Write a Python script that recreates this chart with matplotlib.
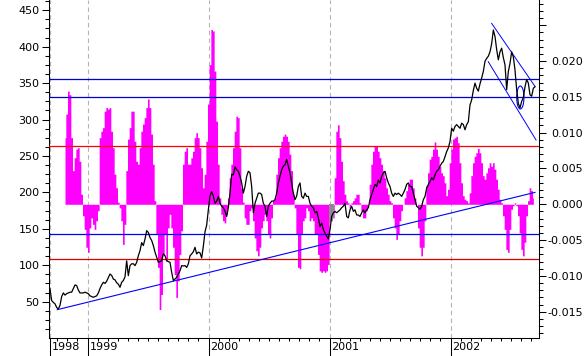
import numpy as np
import matplotlib
matplotlib.use("Agg")
import matplotlib.pyplot as plt
from matplotlib.patches import Ellipse
from matplotlib.ticker import FixedLocator, FuncFormatter

plt.rcParams['font.family'] = 'DejaVu Sans'
plt.rcParams['font.size'] = 8

## data, sampled about every 5 days starting early Sept 1998
t_start = 1998.69
t_step = 0.013774

price = [
    67.5, 51.4, 49, 47, 42, 40, 45, 57, 62, 59,
    61, 62, 63, 63, 68, 73, 72, 66, 62, 62,
    62, 63, 62, 61, 58, 57, 56, 57, 58, 62,
    68, 73, 76.6, 75, 78, 83, 88, 86, 81, 80,
    76, 74, 69.7, 76.6, 79, 84, 106, 85.7, 99.5, 102,
    102, 99.5, 104, 113, 120, 131, 127, 136, 147.5, 145,
    138, 134, 127, 118, 111, 104, 105, 106, 115.5, 113,
    106, 105, 104, 90.3, 79, 81, 83.5, 88, 92.5, 99.5,
    99, 99.5, 97, 102, 113, 115.5, 118.6, 124.6, 115.5, 118,
    117,
    110, 126, 146, 155, 176, 195, 201, 195, 185, 188,
    194.5, 185, 181, 179, 174, 167, 179, 199, 225, 224,
    235, 231, 229, 222, 213, 199, 208, 222, 229, 227,
    208, 172, 185, 192, 199, 199, 197, 185, 181, 167,
    181, 185, 188, 188, 190, 199, 213, 222, 231, 236,
    238, 245, 236, 227, 213, 199, 190, 195, 208, 213,
    194.5, 192, 199, 194.5, 194.5, 185, 181, 179, 172, 174,
    165, 153, 158, 149, 144, 140, 136, 149, 167, 172,
    174, 172, 174, 176, 179, 181, 185, 167, 165, 176,
    181, 174, 176, 169, 169, 167, 172, 176, 172, 176,
    179, 190, 197, 204, 211, 208, 217, 213, 222, 227,
    229, 220, 213, 208, 199, 194.5, 199, 197, 199, 197,
    194.5, 199, 204, 211, 213, 208, 208, 199, 190, 181,
    179, 177, 181, 190, 194.5,
    206, 211, 215, 220, 217, 224, 229, 231, 236, 240,
    242.5, 249, 256, 261, 270, 288, 284, 290.5, 293, 290.5,
    288, 295, 293, 286, 293, 297, 320, 327, 340, 350,
    343, 339, 349, 357, 366, 380, 384, 387, 393, 404,
    423, 414, 396, 382, 393, 398, 385, 375, 341, 366,
    377, 393, 386, 368, 341, 322, 316, 325, 330, 345,
    355, 350, 334, 332, 343, 345,
]

# oscillator (right axis), units of 0.001, starts 9 samples after the price
osc_offset = 9
osc_milli = [
    9.3, 12.6, 15.8, 15.3, 9.3, 4.7, 6.5, 7.7, 7.9, 6.0,
    1.4, -1.6, -3.5, -6.0, -6.7, -3.3, -1.9, -2.8, -3.5, -2.3,
    -0.9, 9.3, 10.2, 10.7, 13.0, 13.5, 13.3, 13.5, 10.2, 7.9,
    4.2, 2.3, 0.3, -0.5, -2.3, -5.6, -2.8, 4.7, 9.1, 10.7,
    13.0, 13.0, 8.8, 6.0, 5.6, 7.9, 10.2, 11.2, 12.1, 13.5,
    14.7, 13.5, 9.8, 5.6, 0.5, -4.2, -8.8, -14.7, -12.6, -7.0,
    -4.2, -7.9, -3.3,
    -1.4, -3.3, -6.0, -9.8, -13.0, -10.7, -7.0, -3.7, 5.6, 7.4,
    7.9, 5.6, 5.6, 6.5, 7.4, 9.3, 10.0, 9.3, 7.9, 5.1,
    2.3, 4.2, 8.8, 14.0, 19.5, 24.4, 24.2, 18.6, 11.6, 5.6,
    0.9, -1.4, -2.3, -2.6, -1.4, 0.9, 3.7, 5.6, 7.9, 10.2,
    12.3, 12.1, 7.9, 2.3, 0.3, -1.9, -2.8, -2.8, -0.9, -0.5,
    -2.3, -4.7, -6.5, -7.2, -6.0, -3.3, -2.3, -1.4, -2.3, -4.2,
    -4.7, -1.9, 0.5, 0.9, 4.2, 6.5, 7.9, 8.8, 9.5, 9.8,
    9.5, 8.8, 7.0, 4.7, 1.4, -0.5, -4.2, -8.8, -9.0,
    -4.2, -2.3, -1.9, -0.5, -0.9, -2.3, -1.9, -2.3, -4.2, -4.2,
    -7.0, -9.3, -9.5, -9.3, -9.5, -9.3, -8.4, -2.3, -2.3, -1.9,
    3.7, 10.2, 11.1, 9.3, 6.0, 3.3, 1.4, 0.5, 0.2, -0.5,
    0.2, 0.5, 0.9, 1.4, 1.4, 0.2, -0.9, -1.9, -1.9, -0.9,
    0.0, 2.8, 5.6, 7.4, 8.1, 8.1, 7.4, 6.5, 5.6, 4.7,
    3.7, 2.3, 1.4, 0.5, 0.2, -1.9, -3.3, -4.9, -4.2, -2.3,
    -0.9, 0.0, 0.9, 1.9, 2.8, 3.5, 3.5, 2.3, 0.9, 0.0,
    -3.3, -6.0, -7.2, -6.0, -2.3,
    2.6, 4.4, 6.3, 6.7, 7.7, 8.7, 7.7, 6.7, 5.3, 4.4,
    4.0, 3.0, 1.2, 2.1, 5.8, 7.7, 9.1, 9.3, 9.5, 8.6,
    5.8, 3.0, 1.2, 0.7, 0.5, 0.2, 1.6, 4.0, 5.8, 6.7,
    7.2, 7.8, 7.2, 5.8, 4.0, 3.5, 4.4, 5.1, 5.8, 5.3,
    5.8, 4.9, 3.5, 2.1, 0.7, 0.2, -1.6, -3.5, -6.3, -6.7,
    -3.5, -0.7, -0.2, 0.2, -0.2, -1.6, -4.0, -6.3, -7.2, -5.3,
    -1.6, 0.5, 2.3, 1.9, 0.9,
]
grey_span = (2001.0, 2001.035)   # few bars drawn grey

# support / resistance levels (left axis)
levels = [355.3, 330.6, 263.3, 142.9, 108.2]
level_colors = ['#0000cc', '#0000cc', '#ff0000', '#0000ff', '#dd0000']

trend_t = [1998.750, 2002.698]
trend_v = [39, 200]
chan_hi_t = [2002.340, 2002.698]
chan_hi_v = [432, 345.6]
chan_lo_t = [2002.312, 2002.707]
chan_lo_v = [379.4, 271.9]
ell_center = (2002.577, 330.3)
ell_w, ell_h = 0.060, 31.6

years = [1999, 2000, 2001, 2002]

t = t_start + t_step * np.arange(len(price))
t_osc = t[osc_offset:osc_offset + len(osc_milli)]
osc = np.array(osc_milli) / 1000.0

##
W, H = 587, 356
fig = plt.figure(figsize=(W / 100, H / 100), dpi=100)
ax = fig.add_axes([49 / W, 18.5 / H, 490 / W, 337.5 / H])   # oscillator, right scale
axp = ax.twinx()                                              # price, left scale

# grid
for x in [t_start] + years:
    ax.axvline(x, color='#b4b4b4', lw=0.8, ls=(0, (4, 3)), zorder=0.5)

ax.fill_between(t_osc, osc, 0, step='mid', color='#ff00ff', lw=0, zorder=2)
m = (t_osc >= grey_span[0]) & (t_osc <= grey_span[1])
ax.bar(t_osc[m], osc[m], width=t_step, color='#8c8c8c', lw=0, zorder=2.5)

for lv, c in zip(levels, level_colors):
    axp.axhline(lv, color=c, lw=0.9, zorder=3)
axp.plot(trend_t, trend_v, color='#0000ff', lw=0.8, zorder=3)
axp.plot(chan_hi_t, chan_hi_v, color='#0000ff', lw=0.7, zorder=3)
axp.plot(chan_lo_t, chan_lo_v, color='#0000ff', lw=0.7, zorder=3)
axp.add_patch(Ellipse(ell_center, ell_w, ell_h, fill=False, ec='#0000ff', lw=0.8, zorder=3))
axp.plot(t, price, color='black', lw=0.9, zorder=5)

ax.set_xlim(1998.6817, 2002.7313)
ax.set_ylim(-0.0186, 0.02852)
axp.set_ylim(0.8, 464.1)

# right axis
ax.yaxis.tick_right()
ax.yaxis.set_major_locator(FixedLocator([-0.015, -0.01, -0.005, 0, 0.005, 0.01, 0.015, 0.02, 0.025]))
ax.yaxis.set_minor_locator(FixedLocator(np.arange(-0.018, 0.0285, 0.001)))
ax.yaxis.set_major_formatter(FuncFormatter(lambda v, p: '' if v > 0.022 else '%.3f' % v))
ax.tick_params(axis='y', which='major', length=5, width=0.75, pad=26.5, labelsize=8)
ax.tick_params(axis='y', which='minor', length=2.9, width=0.75)
plt.setp(ax.get_yticklabels(), ha='right')

# left axis
axp.yaxis.tick_left()
axp.yaxis.set_major_locator(FixedLocator(np.arange(50, 451, 50)))
axp.yaxis.set_minor_locator(FixedLocator(np.arange(12.5, 464, 12.5)))
axp.tick_params(axis='y', which='major', length=5, width=0.75, pad=1.8, labelsize=8)
axp.tick_params(axis='y', which='minor', length=2.9, width=0.75)

# bottom axis: monthly ticks, year separators
months = [y + k / 12 for y in range(1998, 2003) for k in range(12)]
months = [mm for mm in months if 1998.70 < mm < 2002.73]
ax.xaxis.set_minor_locator(FixedLocator(months))
ax.xaxis.set_major_locator(FixedLocator([t_start] + years))
ax.tick_params(axis='x', which='minor', length=2.5, width=0.75)
ax.tick_params(axis='x', which='major', length=14, width=0.75, labelbottom=False)
for x, lab in zip([t_start] + years, ['1998', '1999', '2000', '2001', '2002']):
    ax.annotate(lab, xy=(x, 0), xycoords=('data', 'axes fraction'),
                xytext=(2, -10), textcoords='offset pixels',
                ha='left', va='center', fontsize=8)

for s in ['top', 'left']:
    ax.spines[s].set_visible(False)
for s in ['top', 'right', 'bottom']:
    axp.spines[s].set_visible(False)
for sp in list(ax.spines.values()) + list(axp.spines.values()):
    sp.set_linewidth(0.75)

fig.savefig('out.png', dpi=100)
